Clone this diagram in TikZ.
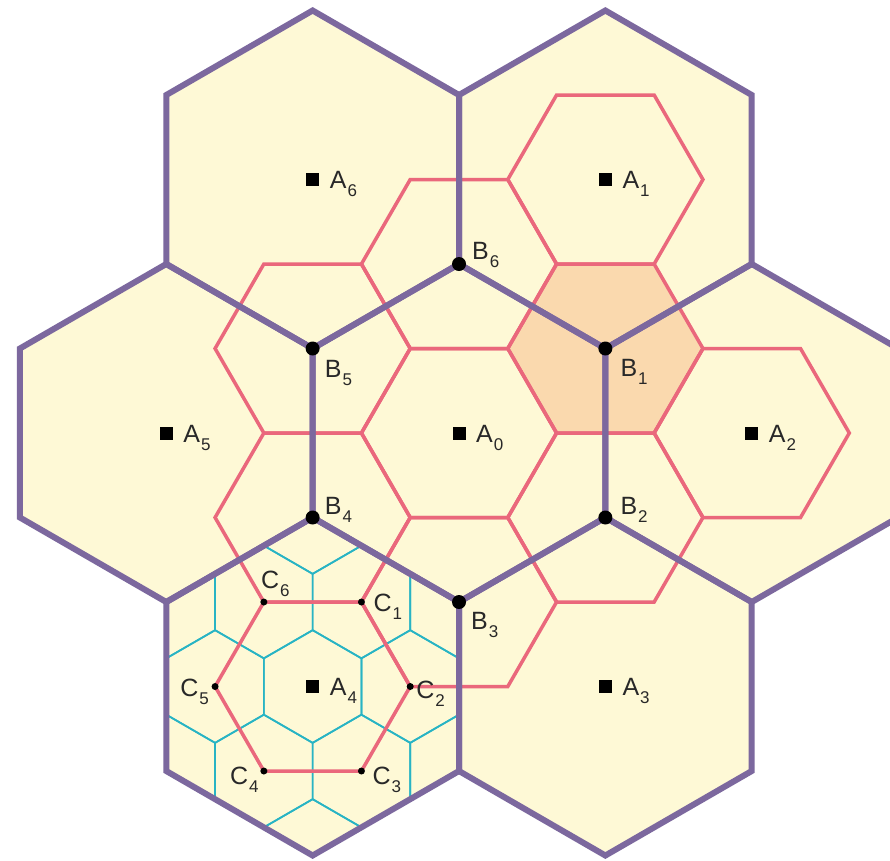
\documentclass[tikz,border=0pt]{standalone}
\usepackage{fontspec}
\setmainfont{Liberation Sans}
\usetikzlibrary{calc}
\definecolor{hexfill}{RGB}{254,249,214}
\definecolor{hexborder}{RGB}{124,104,158}
\definecolor{redline}{RGB}{234,104,124}
\definecolor{orangefill}{RGB}{250,217,174}
\definecolor{cyanline}{RGB}{40,180,196}
\definecolor{labeltext}{RGB}{40,40,40}
\newcommand\lsub[2]{#1\kern1pt\raisebox{-8pt}{\fontsize{17}{17}\selectfont #2}}
\begin{document}
\begin{tikzpicture}[x=1pt,y=-1pt,
  bigfill/.style={fill=hexfill},
  bigborder/.style={draw=hexborder,line width=6pt},
  redhex/.style={draw=redline,line width=3.5pt},
  cyanhex/.style={draw=cyanline,line width=1.7pt},
  sqmark/.style={fill=black,inner sep=0pt,minimum size=13pt,rectangle},
  bdot/.style={fill=black,circle,inner sep=0pt,minimum size=14pt},
  cdot/.style={fill=black,circle,inner sep=0pt,minimum size=7pt},
  lbl/.style={inner sep=0pt,font=\fontsize{25}{25}\selectfont,text=labeltext}]
\fill[white] (0,0) rectangle (890,860);
\useasboundingbox (0,0) rectangle (890,860);
% centres
\coordinate (A0) at (459,433);
\coordinate (A1) at (605.36,179.5);
\coordinate (A2) at (751.72,433);
\coordinate (A3) at (605.36,686.5);
\coordinate (A4) at (312.64,686.5);
\coordinate (A5) at (166.28,433);
\coordinate (A6) at (312.64,179.5);
\coordinate (B1) at (605.36,348.5);
\coordinate (B2) at (605.36,517.5);
\coordinate (B3) at (459,602);
\coordinate (B4) at (312.64,517.5);
\coordinate (B5) at (312.64,348.5);
\coordinate (B6) at (459,264);
\coordinate (C1) at (361.43,602);
\coordinate (C2) at (410.21,686.5);
\coordinate (C3) at (361.43,771);
\coordinate (C4) at (263.86,771);
\coordinate (C5) at (215.07,686.5);
\coordinate (C6) at (263.86,602);
% big hexagon fills
\foreach \c in {A0,A1,A2,A3,A4,A5,A6}{
  \fill[bigfill,shift={(\c)}] (30:169) -- (90:169) -- (150:169) -- (210:169) -- (270:169) -- (330:169) -- cycle;
}
% orange cell
\fill[orangefill,shift={(B1)}] (0:97.57) -- (60:97.57) -- (120:97.57) -- (180:97.57) -- (240:97.57) -- (300:97.57) -- cycle;
% cyan tiling inside A4
\begin{scope}
  \clip[shift={(A4)}] (30:169) -- (90:169) -- (150:169) -- (210:169) -- (270:169) -- (330:169) -- cycle;
  \foreach \m in {-4,...,4}{
    \foreach \n in {-4,...,4}{
      \pgfmathsetmacro\hx{\m*97.57+\n*48.785}
      \pgfmathsetmacro\hy{\n*84.5}
      \draw[cyanhex,shift={(A4)},shift={(\hx,\hy)}] (30:56.33) -- (90:56.33) -- (150:56.33) -- (210:56.33) -- (270:56.33) -- (330:56.33) -- cycle;
    }
  }
\end{scope}
% red hexagons
\foreach \c in {A0,B1,B2,B3,B4,B5,B6,A1,A2,A4}{
  \draw[redhex,shift={(\c)}] (0:97.57) -- (60:97.57) -- (120:97.57) -- (180:97.57) -- (240:97.57) -- (300:97.57) -- cycle;
}
% big hexagon borders
\foreach \c in {A0,A1,A2,A3,A4,A5,A6}{
  \draw[bigborder,shift={(\c)}] (30:169) -- (90:169) -- (150:169) -- (210:169) -- (270:169) -- (330:169) -- cycle;
}
% markers and labels
\foreach \i in {0,...,6}{
  \node[sqmark] (mA\i) at (A\i) {};
  \node[lbl,anchor=base west] (lA\i) at ($(A\i)+(17,9)$) {\lsub{A}{\i}};
}
\foreach \i in {1,...,6}{
  \node[bdot] (dB\i) at (B\i) {};
  \node[cdot] (dC\i) at (C\i) {};
}
\node[lbl,anchor=base west] (lB1) at ($(B1)+(15,28)$) {\lsub{B}{1}};
\node[lbl,anchor=base west] (lB2) at ($(B2)+(15,-3)$) {\lsub{B}{2}};
\node[lbl,anchor=base west] (lB3) at ($(B3)+(12,27)$) {\lsub{B}{3}};
\node[lbl,anchor=base west] (lB4) at ($(B4)+(12,-3)$) {\lsub{B}{4}};
\node[lbl,anchor=base west] (lB5) at ($(B5)+(12,29)$) {\lsub{B}{5}};
\node[lbl,anchor=base west] (lB6) at ($(B6)+(13,-5)$) {\lsub{B}{6}};
\node[lbl,anchor=base west] (lC1) at ($(C1)+(12,9)$) {\lsub{C}{1}};
\node[lbl,anchor=base west] (lC2) at ($(C2)+(6,12)$) {\lsub{C}{2}};
\node[lbl,anchor=base west] (lC3) at ($(C3)+(11,13)$) {\lsub{C}{3}};
\node[lbl,anchor=base east] (lC4) at ($(C4)+(-5,13)$) {\lsub{C}{4}};
\node[lbl,anchor=base east] (lC5) at ($(C5)+(-6,10)$) {\lsub{C}{5}};
\node[lbl,anchor=base west] (lC6) at ($(C6)+(-3,-14)$) {\lsub{C}{6}};
\end{tikzpicture}
\end{document}
